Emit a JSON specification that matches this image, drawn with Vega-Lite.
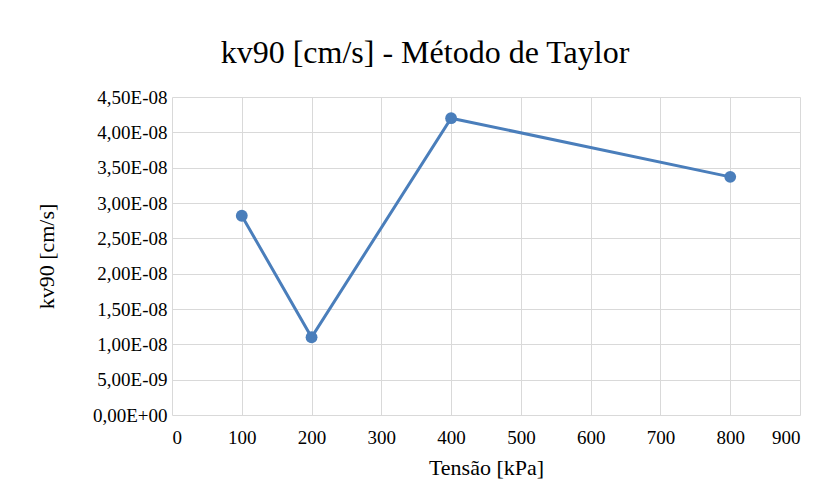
{
  "$schema": "https://vega.github.io/schema/vega-lite/v6.json",
  "width": 628,
  "height": 318,
  "autosize": {"type": "none"},
  "padding": {"left": 172, "top": 97, "right": 23, "bottom": 87},
  "background": "white",
  "title": {
    "text": "kv90 [cm/s] - Método de Taylor",
    "font": "Liberation Serif",
    "fontSize": 32,
    "fontWeight": 400,
    "color": "#000000",
    "anchor": "middle",
    "dx": -61,
    "offset": 18
  },
  "data": {
    "values": [
      {"tensao": 100, "kv90": 2.82e-8},
      {"tensao": 200, "kv90": 1.10e-8},
      {"tensao": 400, "kv90": 4.20e-8},
      {"tensao": 800, "kv90": 3.37e-8}
    ]
  },
  "encoding": {
    "x": {
      "field": "tensao",
      "type": "quantitative",
      "scale": {"domain": [0, 900], "nice": false},
      "axis": {
        "values": [0, 100, 200, 300, 400, 500, 600, 700, 800, 900],
        "title": "Tensão [kPa]",
        "labelPadding": 13,
        "titlePadding": 10
      }
    },
    "y": {
      "field": "kv90",
      "type": "quantitative",
      "scale": {"domain": [0, 4.5e-8], "nice": false},
      "axis": {
        "values": [0, 5e-9, 1e-8, 1.5e-8, 2e-8, 2.5e-8, 3e-8, 3.5e-8, 4e-8, 4.5e-8],
        "labelExpr": "replace(split(format(datum.value,'.2e'),'e')[0],'.',',') + 'E' + substring(split(format(datum.value,'.2e'),'e')[1],0,1) + (length(split(format(datum.value,'.2e'),'e')[1]) < 3 ? '0' : '') + substring(split(format(datum.value,'.2e'),'e')[1],1)",
        "title": "kv90 [cm/s]",
        "labelPadding": 5,
        "titlePadding": 34
      }
    }
  },
  "layer": [
    {"mark": {"type": "line", "color": "#4a7ebb", "strokeWidth": 3}},
    {"mark": {"type": "point", "filled": true, "size": 140, "opacity": 1, "color": "#4a7ebb"}}
  ],
  "config": {
    "font": "Liberation Serif",
    "axis": {
      "labelFont": "Liberation Serif",
      "labelFontSize": 19,
      "labelColor": "#000000",
      "titleFont": "Liberation Serif",
      "titleFontSize": 22,
      "titleFontWeight": 400,
      "titleColor": "#000000",
      "grid": true,
      "gridColor": "#d9d9d9",
      "gridWidth": 1,
      "domain": false,
      "ticks": false
    },
    "view": {"stroke": null}
  }
}
